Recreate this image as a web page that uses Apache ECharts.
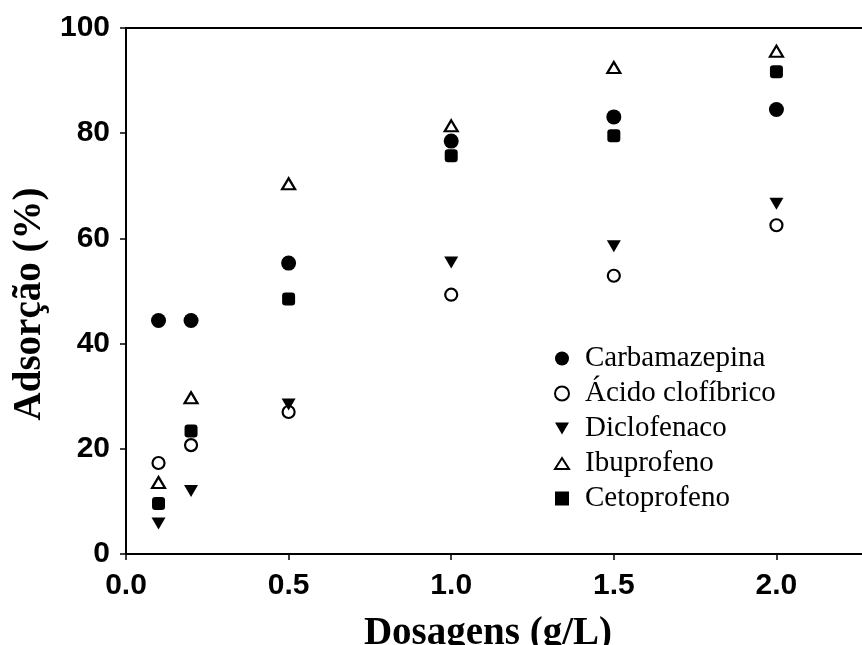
<!DOCTYPE html>
<html>
<head>
<meta charset="utf-8">
<script src="https://cdn.jsdelivr.net/npm/echarts@6/dist/echarts.min.js"></script>
<style>
  html, body { margin: 0; padding: 0; background: #fff; }
  #chart { width: 862px; height: 645px; }
</style>
</head>
<body>
<div id="chart"></div>
<script>
// Dosages (g/L) tested
const dosagens = [0.1, 0.2, 0.5, 1.0, 1.5, 2.0];

// Adsorption (%) for each compound
const carbamazepina = [44.4, 44.4, 55.3, 78.5, 83.1, 84.5];
const acidoClofibrico = [17.3, 20.7, 27.0, 49.3, 52.9, 62.5];
const diclofenaco = [5.8, 12.0, 28.4, 55.4, 58.5, 66.6];
const ibuprofeno = [13.6, 29.7, 70.4, 81.4, 92.5, 95.6];
const cetoprofeno = [9.6, 23.4, 48.5, 75.7, 79.5, 91.7];

const seriesNames = ['Carbamazepina', 'Ácido clofíbrico', 'Diclofenaco', 'Ibuprofeno', 'Cetoprofeno'];

const xTicks = [0.0, 0.5, 1.0, 1.5, 2.0];
const yTicks = [0, 20, 40, 60, 80, 100];

function pairs(values) {
  return dosagens.map((d, i) => [d, values[i]]);
}

const filled = { color: '#000', opacity: 1 };
const hollow = { color: '#fff', borderColor: '#000', borderWidth: 2.2, opacity: 1 };

// legend icons drawn as paths so their proportions stay fixed
const legendIcons = [
  'circle',
  'path://M6,0 A6,6 0 1 1 5.99,0 Z',
  'path://M0,0 L14,0 L7,12 Z',
  'path://M7,0 L14,11 L0,11 Z',
  'path://M0,0 L12,0 L12,12 L0,12 Z'
];

const chart = echarts.init(document.getElementById('chart'), null, { renderer: 'canvas' });

chart.setOption({
  animation: false,
  backgroundColor: '#fff',
  grid: {
    left: 126,
    top: 28,
    width: 748,
    height: 526,
    outerBoundsMode: 'none',
    containLabel: false,
    show: true,
    borderColor: '#000',
    borderWidth: 2,
    backgroundColor: 'transparent'
  },
  xAxis: {
    type: 'value',
    min: 0,
    max: 2.3,
    interval: 0.5,
    name: 'Dosagens (g/L)',
    nameLocation: 'middle',
    nameGap: 60,
    nameTextStyle: {
      fontFamily: 'Liberation Serif',
      fontWeight: 'bold',
      fontSize: 39,
      color: '#000',
      padding: [0, 24, 0, 0]
    },
    axisLine: { show: true, lineStyle: { color: '#000', width: 2 } },
    axisTick: { show: true, length: 6, lineStyle: { color: '#000', width: 1.5 } },
    splitLine: { show: false },
    axisLabel: {
      margin: 17,
      fontFamily: 'Liberation Sans',
      fontWeight: 'bold',
      fontSize: 30,
      color: '#000',
      formatter: v => (xTicks.some(t => Math.abs(t - v) < 1e-9) ? v.toFixed(1) : '')
    }
  },
  yAxis: {
    type: 'value',
    min: 0,
    max: 100,
    interval: 20,
    name: 'Adsorção (%)',
    nameLocation: 'middle',
    nameGap: 76,
    nameTextStyle: {
      fontFamily: 'Liberation Serif',
      fontWeight: 'bold',
      fontSize: 39,
      color: '#000',
      padding: [0, 26, 0, 0]
    },
    axisLine: { show: true, lineStyle: { color: '#000', width: 2 } },
    axisTick: { show: true, length: 6, lineStyle: { color: '#000', width: 1.5 } },
    splitLine: { show: false },
    axisLabel: {
      margin: 16,
      fontFamily: 'Liberation Sans',
      fontWeight: 'bold',
      fontSize: 30,
      color: '#000',
      formatter: v => (yTicks.indexOf(v) >= 0 ? String(v) : '')
    }
  },
  legend: {
    orient: 'vertical',
    left: 549,
    top: 339,
    itemWidth: 14,
    itemHeight: 14,
    itemGap: 6,
    symbolKeepAspect: true,
    textStyle: {
      fontFamily: 'Liberation Serif',
      fontSize: 29,
      color: '#000',
      padding: [0, 0, 0, 11]
    },
    data: seriesNames.map((name, i) => ({ name: name, icon: legendIcons[i] }))
  },
  series: [
    {
      name: seriesNames[0],
      type: 'scatter',
      symbol: 'circle',
      symbolSize: 15,
      itemStyle: filled,
      data: pairs(carbamazepina)
    },
    {
      name: seriesNames[1],
      type: 'scatter',
      symbol: 'circle',
      symbolSize: 12,
      itemStyle: hollow,
      data: pairs(acidoClofibrico)
    },
    {
      name: seriesNames[2],
      type: 'scatter',
      symbol: 'triangle',
      symbolRotate: 180,
      symbolSize: [14, 12],
      itemStyle: filled,
      data: pairs(diclofenaco)
    },
    {
      name: seriesNames[3],
      type: 'scatter',
      symbol: 'triangle',
      symbolSize: [13, 11],
      itemStyle: hollow,
      data: pairs(ibuprofeno)
    },
    {
      name: seriesNames[4],
      type: 'scatter',
      symbol: 'roundRect',
      symbolSize: 13,
      itemStyle: filled,
      data: pairs(cetoprofeno)
    }
  ]
});
</script>
</body>
</html>
